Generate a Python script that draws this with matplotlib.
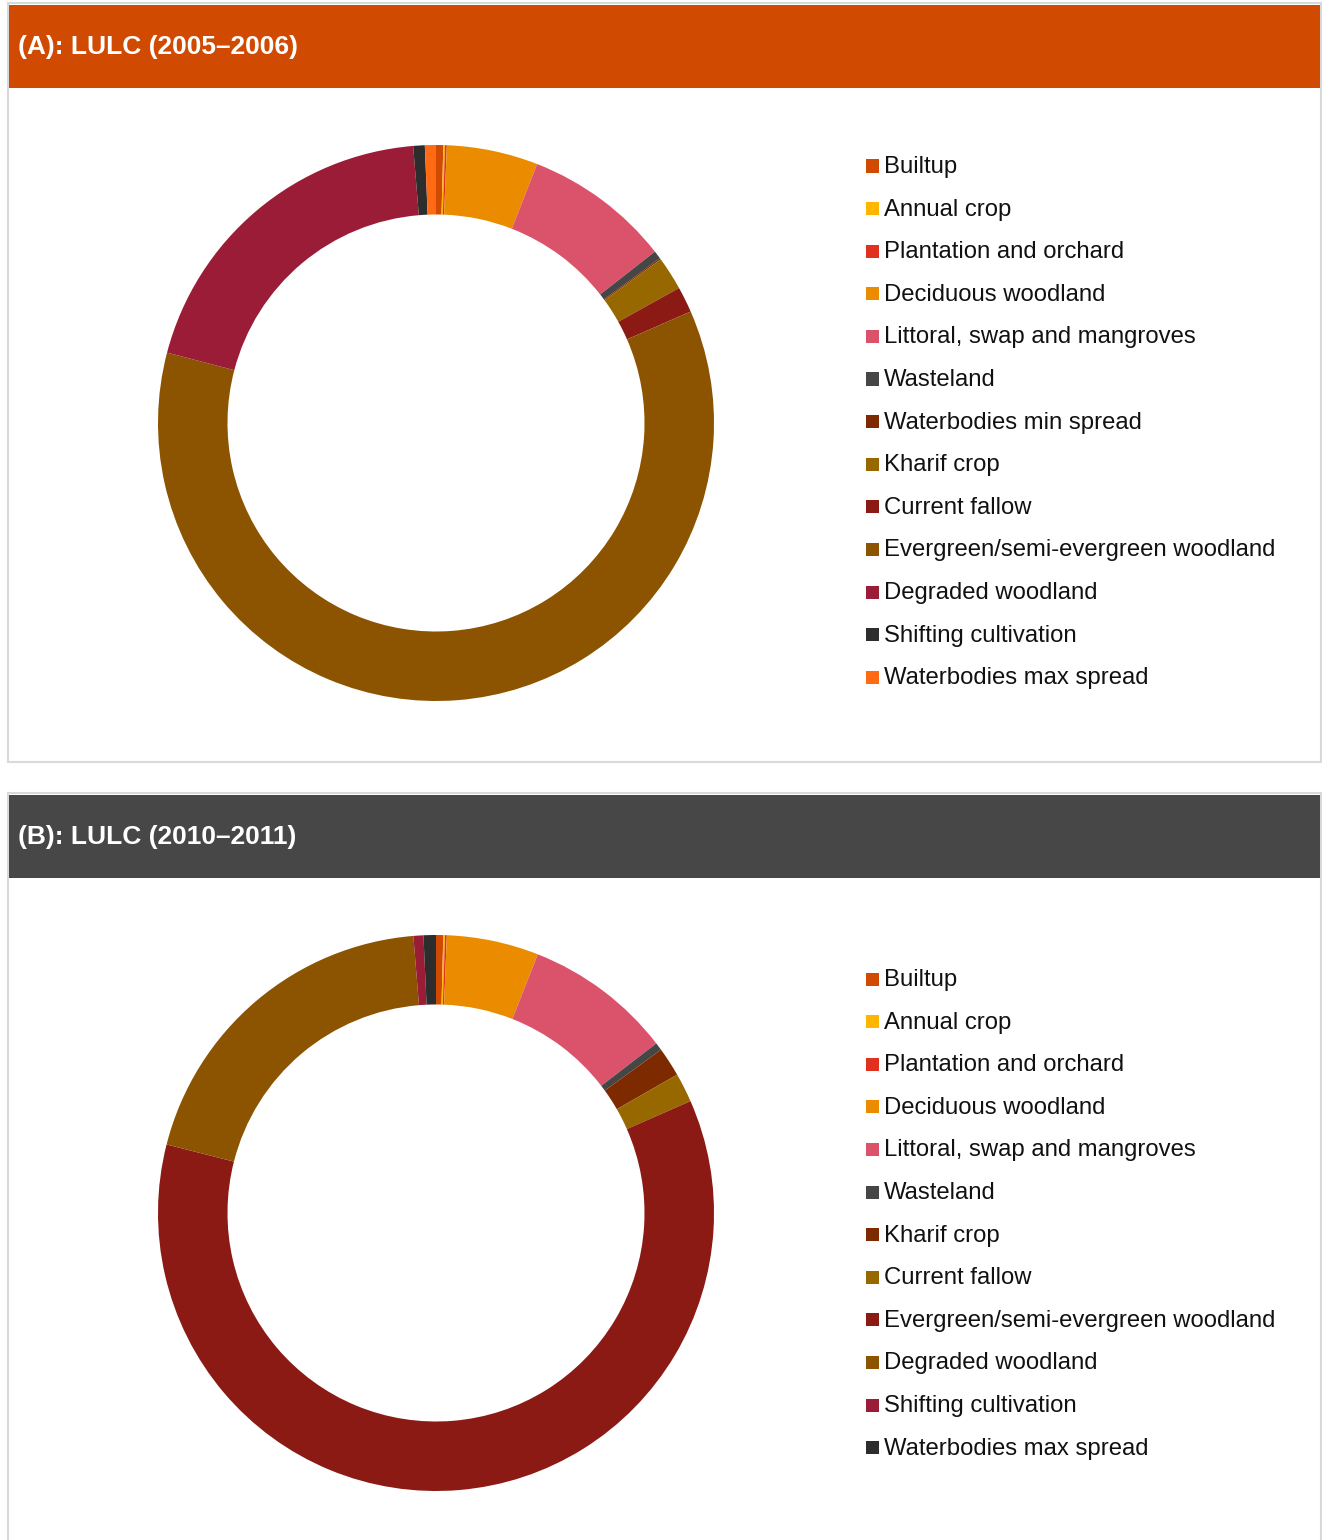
import matplotlib.pyplot as plt
from matplotlib.patches import Rectangle

plt.rcParams['font.family'] = ['Liberation Sans', 'DejaVu Sans']

W, H = 1322, 1540

palette = ['#D04A02', '#FFB600', '#E0301E', '#EB8C00', '#DB536A', '#464646',
           '#7D2A00', '#986800', '#8B1A15', '#8C5400', '#9A1C36', '#2D2D2D',
           '#FF6A12']

labels_a = ['Builtup', 'Annual crop', 'Plantation and orchard', 'Deciduous woodland',
            'Littoral, swap and mangroves', 'Wasteland', 'Waterbodies min spread',
            'Kharif crop', 'Current fallow', 'Evergreen/semi-evergreen woodland',
            'Degraded woodland', 'Shifting cultivation', 'Waterbodies max spread']
values_a = [0.42, 0.1, 0.1, 5.3, 8.5, 0.47, 0.08, 1.95, 1.5, 60.6, 19.6, 0.67, 0.64]

labels_b = ['Builtup', 'Annual crop', 'Plantation and orchard', 'Deciduous woodland',
            'Littoral, swap and mangroves', 'Wasteland', 'Kharif crop',
            'Current fallow', 'Evergreen/semi-evergreen woodland',
            'Degraded woodland', 'Shifting cultivation', 'Waterbodies max spread']
values_b = [0.42, 0.1, 0.1, 5.35, 8.6, 0.45, 1.7, 1.7, 60.6, 19.75, 0.58, 0.72]

fig = plt.figure(figsize=(W / 100, H / 100), dpi=100)


def px_rect(x0, y0, x1, y1, **kw):
    # rectangle in pixel coords (origin top-left)
    r = Rectangle((x0 / W, 1 - y1 / H), (x1 - x0) / W, (y1 - y0) / H,
                  transform=fig.transFigure, **kw)
    fig.patches.append(r)


def panel(top, bottom, header_color, title, labels, values, cy, leg_top):
    px_rect(8, top, 1321, bottom, facecolor='white', edgecolor='#d9d9d9', lw=1.5)
    px_rect(9, top + 2, 1320, top + 85, facecolor=header_color, edgecolor='none')
    fig.text(18 / W, 1 - (top + 44) / H, title, color='white', fontsize=19,
             fontweight='bold', va='center', ha='left')

    r = 278
    cx = 436
    ax = fig.add_axes([(cx - r) / W, 1 - (cy + r) / H, 2 * r / W, 2 * r / H])
    ax.set_zorder(5)
    ax.pie(values, colors=palette[:len(values)], startangle=90, counterclock=False,
           radius=1, wedgeprops=dict(width=0.25, edgecolor='none'))
    ax.set_xlim(-1, 1)
    ax.set_ylim(-1, 1)
    ax.set_aspect('auto')
    ax.axis('off')

    step = 42.6
    for i, lab in enumerate(labels):
        y = leg_top + i * step
        px_rect(866, y - 6.5, 879, y + 6.5, facecolor=palette[i], edgecolor='none')
        fig.text(884 / W, 1 - (y + 1) / H, lab, fontsize=17.2, va='center', ha='left',
                 color='#111111')


panel(3, 762, '#D04A02', '(A): LULC (2005\u20132006)', labels_a, values_a, 423, 166)
panel(793, 1560, '#474747', '(B): LULC (2010\u20132011)', labels_b, values_b, 1213, 979)

fig.savefig('out.png', dpi=100)
